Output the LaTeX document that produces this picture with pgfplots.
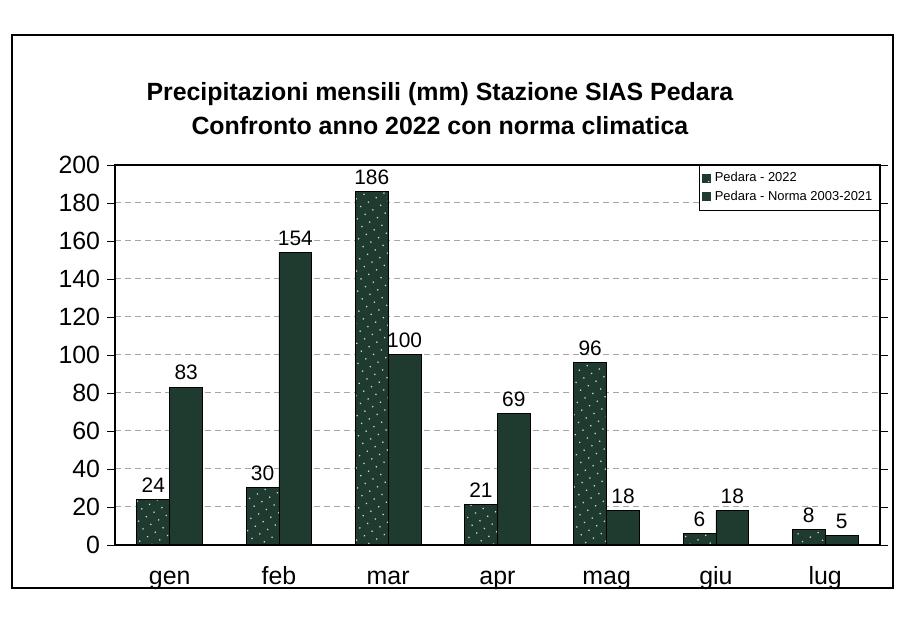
\documentclass[border=0pt]{standalone}
\usepackage{pgfplots}
\pgfplotsset{compat=1.18}
\usepackage{fontspec}
\setmainfont{Liberation Sans}
\usetikzlibrary{patterns.meta}
\definecolor{barc}{HTML}{1F3A2F}
\begin{document}
\begin{tikzpicture}
\useasboundingbox (0,0) rectangle (16,10.97);
\fill[white] (0,0) rectangle (16,10.97);
\draw[line width=0.9pt] (0.21,0.60) rectangle (15.75,10.35);
\node[font=\bfseries\fontsize{12.5}{17}\selectfont, align=center] at (7.76,9.05)
  {Precipitazioni mensili (mm) Stazione SIAS Pedara\\Confronto anno 2022 con norma climatica};
\begin{axis}[
  at={(2.03cm,1.36cm)}, anchor=south west,
  width=13.49cm, height=6.70cm, scale only axis,
  ymin=0, ymax=200, ytick={0,20,...,200},
  xmin=-0.5, xmax=6.5,
  xtick={0,...,6}, xticklabels={gen,feb,mar,apr,mag,giu,lug},
  major x tick style={draw=none},
  extra x ticks={0.5,1.5,...,5.5}, extra x tick labels={},
  extra x tick style={major tick length=5pt, tick style={draw=black}, tick align=outside, grid=none},
  ybar=0pt, bar width=0.58cm,
  ymajorgrids, grid style={densely dashed, gray!70, line width=0.5pt},
  tick align=outside, major tick length=4pt,
  y tick style={black},
  tick label style={font=\fontsize{12.5}{14}\selectfont},
  /pgf/number format/assume math mode=true,
  xticklabel style={yshift=-4pt, text height=1.6ex, text depth=0.4ex},
  axis line style={black, line width=0.8pt},
  nodes near coords,
  nodes near coords style={font=\fontsize{10.5}{12}\selectfont, black},
  legend style={at={(1,1)}, anchor=north east, font=\fontsize{6.5}{7.5}\selectfont,
    draw=black, inner sep=1.5pt, row sep=-1pt, cells={anchor=west}},
  legend image code/.code={\fill[barc] (0cm,-0.07cm) rectangle (0.14cm,0.07cm);},
]
\addplot[fill=barc, draw=black, postaction={pattern={Dots[distance=4.5pt, radius=0.45pt, angle=30]}, pattern color=white!80!barc}]
  coordinates {(0,24) (1,30) (2,186) (3,21) (4,96) (5,6) (6,8)};
\addlegendentry{Pedara - 2022}
\addplot[fill=barc, draw=black]
  coordinates {(0,83) (1,154) (2,100) (3,69) (4,18) (5,18) (6,5)};
\addlegendentry{Pedara - Norma 2003-2021}
\end{axis}
\end{tikzpicture}
\end{document}
